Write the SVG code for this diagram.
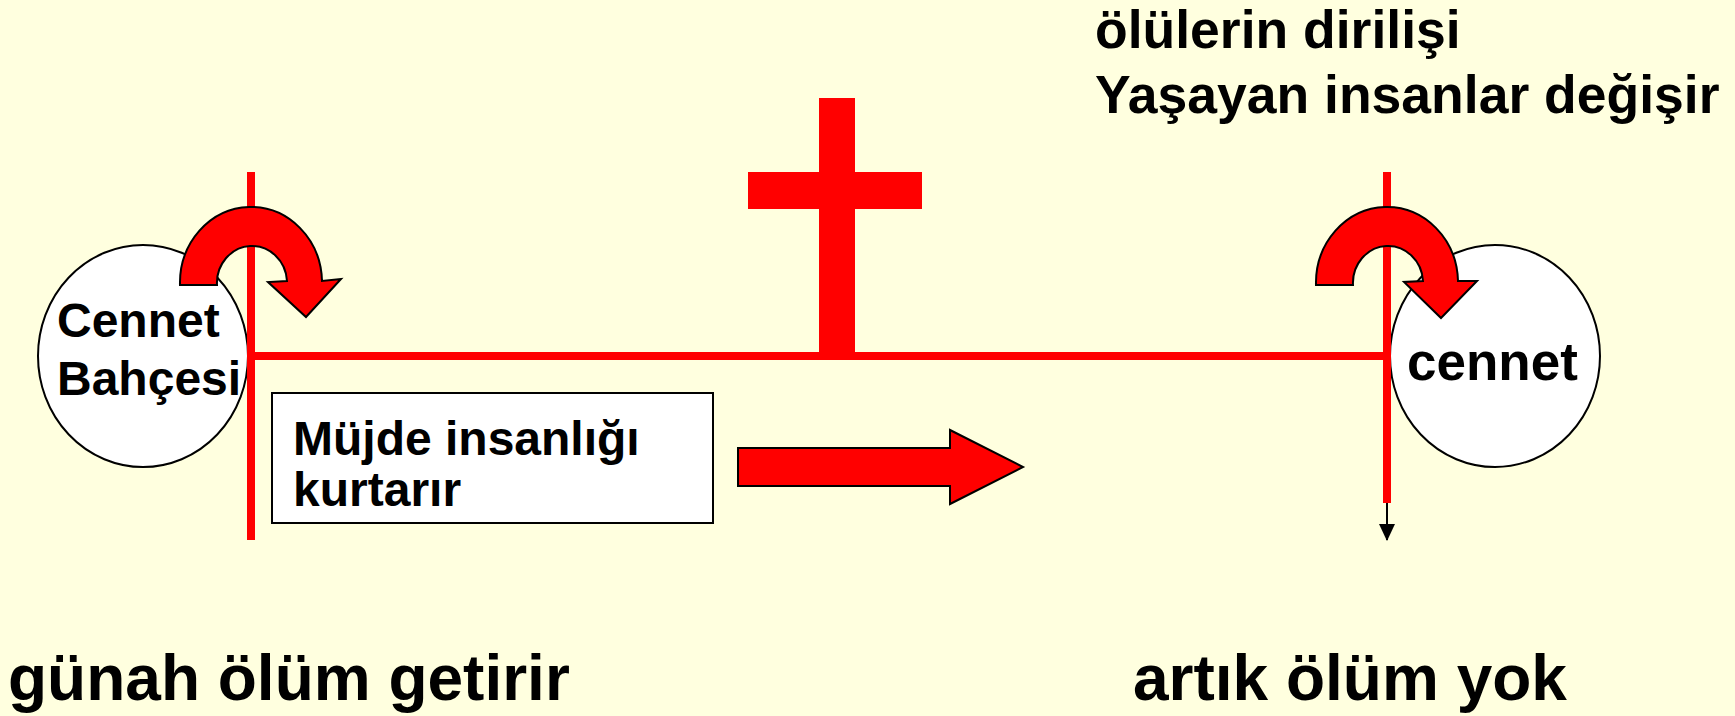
<svg xmlns="http://www.w3.org/2000/svg" width="1735" height="716" viewBox="0 0 1735 716">
<style>
text{font-family:"Liberation Sans",Arial,sans-serif;font-weight:bold;fill:#000}
.red{fill:#FF0000}
.redline{stroke:#FF0000;stroke-width:8;fill:none}
.circ{fill:#FFFFFF;stroke:#000;stroke-width:2}
.shape{fill:#FF0000;stroke:#000;stroke-width:2;stroke-linejoin:miter}
</style>
<defs>
<marker id="ah" markerWidth="17" markerHeight="16" refX="16" refY="8" orient="auto" markerUnits="userSpaceOnUse" viewBox="0 0 17 16">
<path d="M0,0 L17,8 L0,16 Z" fill="#000"/>
</marker>
</defs>
<rect width="1735" height="716" fill="#FFFFDF"/>

<g id="garden">
<ellipse class="circ" cx="143" cy="356" rx="105" ry="111"/>
<text x="57" y="337" font-size="48">Cennet</text>
<text x="57" y="395" font-size="48">Bahçesi</text>
</g>

<g id="heaven">
<ellipse class="circ" cx="1495" cy="356" rx="105" ry="111"/>
<text x="1407" y="380" font-size="53">cennet</text>
</g>

<g id="connectors">
<line class="redline" x1="251" y1="172" x2="251" y2="540"/>
<line class="redline" x1="251" y1="356" x2="1387" y2="356"/>
<line class="redline" x1="1387" y1="172" x2="1387" y2="503"/>
<line x1="1387" y1="503" x2="1387" y2="540" stroke="#000" stroke-width="2" marker-end="url(#ah)"/>
</g>

<g id="cross">
<rect class="red" x="819" y="98" width="36" height="258"/>
<rect class="red" x="748" y="172" width="174" height="37"/>
</g>

<g id="curve-left">
<path class="shape" d="M180,285 A71,76 0 0 1 322,281 L341,279 L306,317 L268,282 L287,281 A35,37 0 0 0 217,285 Z"/>
</g>

<g id="curve-right">
<path class="shape" d="M1316,285 A71,76 0 0 1 1458,281 L1477,281 L1441,318 L1404,282 L1423,281 A35,37 0 0 0 1353,285 Z"/>
</g>

<g id="gospel">
<rect x="272" y="393" width="441" height="130" fill="#FFFFFF" stroke="#000" stroke-width="2"/>
<text x="293" y="455" font-size="48">Müjde insanlığı</text>
<text x="293" y="506" font-size="48">kurtarır</text>
</g>

<g id="block-arrow">
<path class="shape" d="M738,448 L950,448 L950,430 L1023,467 L950,504 L950,486 L738,486 Z"/>
</g>

<g id="resurrection">
<text x="1095" y="48" font-size="53.5">ölülerin dirilişi</text>
<text x="1095" y="113" font-size="53.5">Yaşayan insanlar değişir</text>
</g>

<g id="sin">
<text x="8" y="700" font-size="64">günah ölüm getirir</text>
</g>

<g id="nodeath">
<text x="1133" y="700" font-size="64">artık ölüm yok</text>
</g>
</svg>
